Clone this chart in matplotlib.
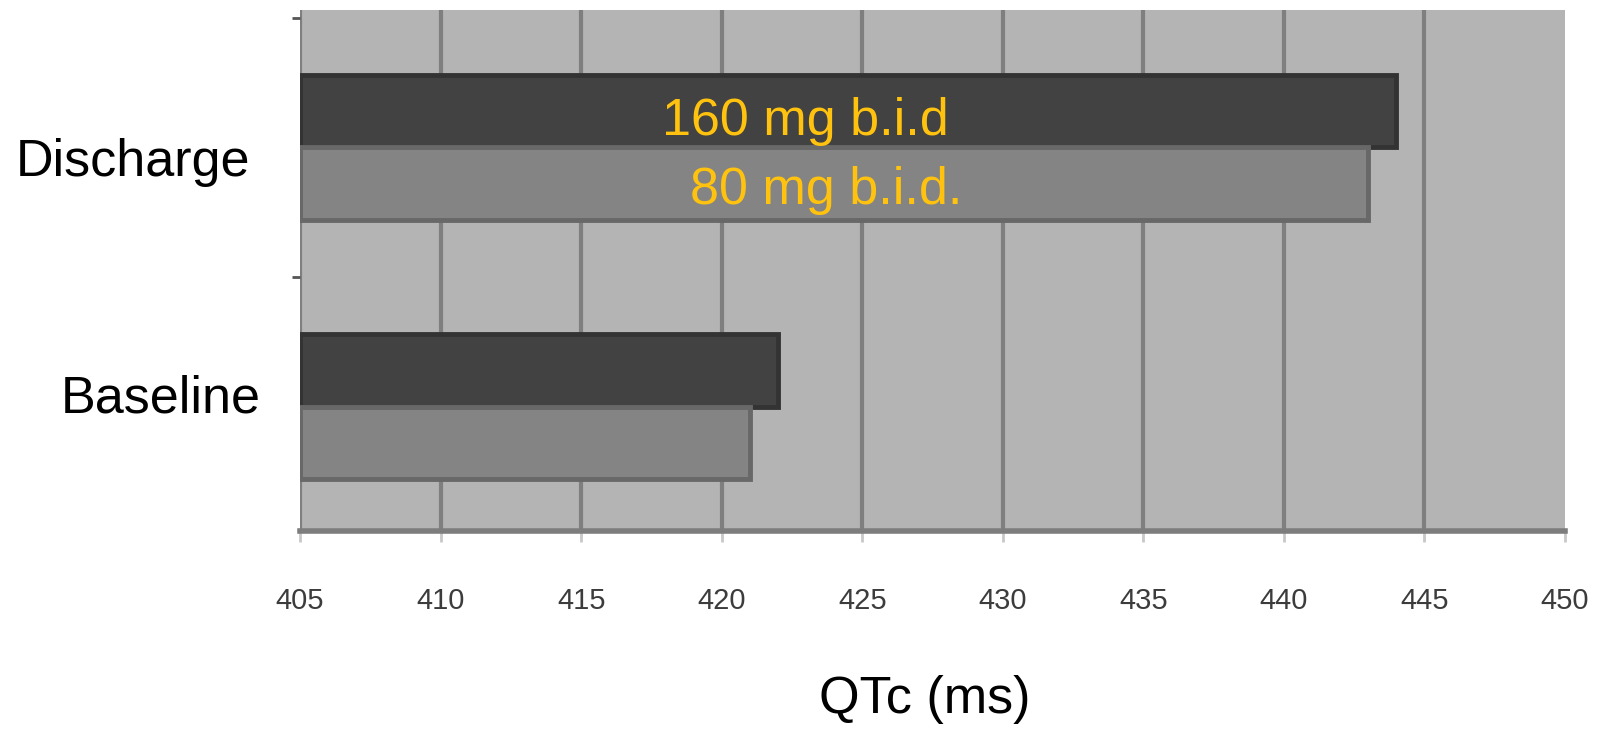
import matplotlib.pyplot as plt
from matplotlib.ticker import FixedLocator

# === Data ===
categories = ["Baseline", "Discharge"]
dose_160 = [422, 444]   # 160 mg b.i.d (dark bars)
dose_80 = [421, 443]    # 80 mg b.i.d. (light bars)
x_ticks = [405, 410, 415, 420, 425, 430, 435, 440, 445, 450]

plt.rcParams["font.family"] = ["Liberation Sans", "DejaVu Sans"]

fig = plt.figure(figsize=(16.07, 7.32), dpi=100)
ax = fig.add_axes([0.1867, 0.2746, 0.7872, 0.7117])
ax.set_facecolor("#b4b4b4")

ypos = list(range(len(categories)))
h = 0.28
ax.barh([y + h / 2 for y in ypos], [v - 405 for v in dose_160], left=405, height=h,
        color="#424242", edgecolor="#333333", linewidth=3.5, zorder=3)
ax.barh([y - h / 2 for y in ypos], [v - 405 for v in dose_80], left=405, height=h,
        color="#848484", edgecolor="#686868", linewidth=3.5, zorder=3)

ax.set_xlim(405, 450)
ax.set_ylim(-0.48, 1.53)
ax.set_xticks(x_ticks)
ax.set_xticklabels([str(t) for t in x_ticks], fontsize=21, color="#3c3c3c")
ax.tick_params(axis="x", length=8, width=2, color="#c8c8c8", pad=32)
ax.grid(axis="x", color="#7f7f7f", linewidth=3, zorder=1)
# no grid line on the right edge
ax.get_xgridlines()[-1].set_visible(False)

ax.set_yticks([])
ax.yaxis.set_minor_locator(FixedLocator([0.5, 1.5]))
ax.tick_params(axis="y", which="minor", length=6, width=2, color="#555555")

for s in ["top", "right", "left"]:
    ax.spines[s].set_visible(False)
ax.spines["bottom"].set_color("#7d7d7d")
ax.spines["bottom"].set_linewidth(4)

# category labels
ax.text(-0.132, 0.94, "Discharge", transform=ax.get_yaxis_transform(),
        ha="center", va="center", fontsize=37.5, color="black")
ax.text(-0.110, 0.03, "Baseline", transform=ax.get_yaxis_transform(),
        ha="center", va="center", fontsize=37.5, color="black")

# dose labels on the bars
ax.text(422.96, 1.10, "160 mg b.i.d", ha="center", va="center",
        fontsize=37.5, color="#FFC20E", zorder=5)
ax.text(423.7, 0.835, "80 mg b.i.d.", ha="center", va="center",
        fontsize=37.5, color="#FFC20E", zorder=5)

fig.text(925 / 1607, 1 - 700 / 732, "QTc (ms)", ha="center", va="center",
         fontsize=37.5, color="black")

fig.savefig("out.png", dpi=100)
